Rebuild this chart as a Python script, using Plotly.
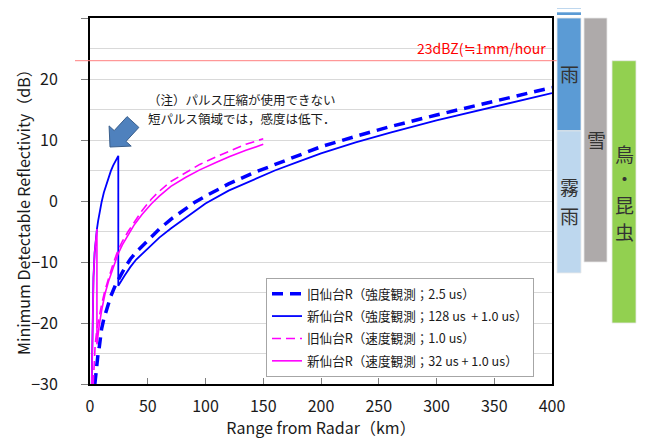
import plotly.graph_objects as go

# ---------------- data ----------------
# 旧仙台R（強度観測；2.5 us）  blue dashed
old_int_r  = [4.2, 5, 6, 7, 8, 10, 12, 15, 18, 22, 26, 30, 35, 40, 50, 60, 70, 80, 90, 100,
              120, 140, 160, 180, 200, 230, 260, 300, 350, 400]
old_int_db = [-30, -28.3, -26.6, -25.0, -24.0, -21.0, -19.3, -17.2, -15.6, -13.8, -12.3, -11.0,
              -9.5, -8.4, -6.5, -4.6, -3.0, -1.6, -0.3, 0.8, 2.8, 4.5, 6.0, 7.5, 8.9, 10.6,
              12.2, 14.1, 16.4, 18.6]

# 新仙台R（強度観測；128 us + 1.0 us） blue solid (short pulse + compressed pulse)
new_int_r  = [1.5, 2, 2.5, 3, 4, 5, 6, 7, 8, 10, 12, 14, 16, 18, 20, 22, 24.5,
              24.5, 26, 30, 35, 40, 50, 60, 70, 80, 90, 100, 120, 140, 160, 180, 200,
              230, 260, 300, 350, 400]
new_int_db = [-30, -21, -16, -12.5, -8.5, -6.2, -4.6, -3.3, -2.1, -0.2, 1.4, 2.7, 3.9, 4.9,
              5.8, 6.6, 7.4,
              -13.9, -13.4, -12.2, -10.8, -9.6, -7.8, -6.0, -4.5, -3.1, -1.7, -0.4, 1.7,
              3.4, 5.0, 6.4, 7.8, 9.6, 11.2, 13.2, 15.5, 17.7]

# 旧仙台R（速度観測；1.0 us） magenta dashed
old_vel_r  = [2.8, 3.5, 4.5, 6, 8, 10, 13, 16, 20, 24, 28, 33, 38, 45, 53, 60, 70, 83, 95,
              110, 121, 135, 150]
old_vel_db = [-30, -26.5, -23.5, -21.0, -18.8, -17.0, -14.6, -12.6, -10.3, -8.2, -6.6, -5.0,
              -3.5, -1.6, 0.3, 1.6, 3.2, 4.7, 6.0, 7.3, 8.2, 9.3, 10.2]

# 新仙台R（速度観測；32 us + 1.0 us） magenta solid
new_vel_r  = [1.5, 2, 2.5, 3, 4, 5, 6,
              6, 7, 8, 10, 13, 16, 20, 24, 28, 33, 38, 45, 53, 60, 70, 83, 95, 110, 121,
              135, 150]
new_vel_db = [-30, -21, -16, -12.5, -8.5, -6.2, -4.6,
              -23.5, -21.8, -20.4, -18.0, -15.2, -13.2, -10.8, -8.8, -7.2, -5.5, -4.0,
              -2.2, -0.5, 0.8, 2.4, 3.9, 5.1, 6.4, 7.3, 8.3, 9.3]

series_names = ["旧仙台R（強度観測；2.5 us）",
                "新仙台R（強度観測；128 us  + 1.0 us）",
                "旧仙台R（速度観測；1.0 us）",
                "新仙台R（速度観測；32 us + 1.0 us）"]

x_ticks = [0, 50, 100, 150, 200, 250, 300, 350, 400]
y_ticks = [-30, -20, -10, 0, 10, 20, 30]
y_tick_text = ["−30", "−20", "−10", "0", "10", "20", "30"]

x_title = "Range from Radar（km）"
y_title = "Minimum Detectable Reflectivity（dB）"

ref_level_db = 23
ref_label = "23dBZ(≒1mm/hour"

# detectable target ranges (dB) drawn as bars right of the chart
target_bars = [
    # name, low, high, colour
    ("雨",   11.5, 30.0, "#5B9BD5"),
    ("霧雨", -11.8, 11.5, "#BDD7EE"),
    ("雪",   -10.0, 30.0, "#AEAAAA"),
    ("鳥昆虫", -20.0, 23.0, "#92D050"),
]

note_lines = ["（注）パルス圧縮が使用できない", "短パルス領域では，感度は低下．"]

FONT = "Noto Sans CJK JP"

# ---------------- figure ----------------
# page body has an 8px margin; plot area in reference pixels: x 90..552, y 18..384
OFF = 8
W, H = 645 - OFF, 439 - OFF
REF_L, REF_T, PW, PH = 90, 18, 462, 366
ML, MT = REF_L - OFF, REF_T - OFF
MR = W - ML - PW
MB = H - MT - PH
YMIN, YMAX = -30, 30


def px2paper(px, py):
    return (px - REF_L) / PW, (REF_T + PH - py) / PH


def db2paper(v):
    return (v - YMIN) / (YMAX - YMIN)


fig = go.Figure()

styles = [
    dict(color="#0000FF", width=3.5, dash="11px,7px"),
    dict(color="#0000FF", width=1.8),
    dict(color="#FF00FF", width=1.6, dash="9px,5px"),
    dict(color="#FF00FF", width=1.6),
]
data = [(old_int_r, old_int_db), (new_int_r, new_int_db),
        (old_vel_r, old_vel_db), (new_vel_r, new_vel_db)]

for i, ((xs, ys), st, nm) in enumerate(zip(data, styles, series_names)):
    fig.add_trace(go.Scatter(x=xs, y=ys, mode="lines", line=st, name=nm,
                             legendgroup=f"g{i}"))

shapes = []
# 23 dBZ reference line
x0, _ = px2paper(75, 0)
x1, _ = px2paper(557, 0)
shapes.append(dict(type="line", xref="paper", yref="paper", x0=x0, x1=x1,
                   y0=db2paper(ref_level_db), y1=db2paper(ref_level_db),
                   line=dict(color="#FF8080", width=1), layer="above"))

# right side bars
bar_cols = {"雨": (557, 581), "霧雨": (557, 581), "雪": (584, 607), "鳥昆虫": (612, 636)}
for name, lo, hi, col in target_bars:
    a, _ = px2paper(bar_cols[name][0], 0)
    b, _ = px2paper(bar_cols[name][1], 0)
    shapes.append(dict(type="rect", xref="paper", yref="paper", x0=a, x1=b,
                       y0=db2paper(lo), y1=db2paper(hi), fillcolor=col,
                       line=dict(width=0.8, color="#E8E8E8")))
# small "continues" strips above rain bar
a, _ = px2paper(557, 0)
b, _ = px2paper(581, 0)
for ytop, ybot in [(12.3, 15.0), (6.8, 8.4)]:
    _, p0 = px2paper(0, ybot)
    _, p1 = px2paper(0, ytop)
    shapes.append(dict(type="rect", xref="paper", yref="paper", x0=a, x1=b,
                       y0=p0, y1=p1, fillcolor="#5B9BD5", line=dict(width=0)))

# block arrow
arrow_px = [(110, 147), (131.2, 146.1), (126.0, 141.4), (138.9, 127.4),
            (127.1, 116.6), (114.2, 130.6), (109.1, 125.9)]
pts = [px2paper(x, y) for x, y in arrow_px]
path = "M " + " L ".join(f"{x:.4f},{y:.4f}" for x, y in pts) + " Z"
shapes.append(dict(type="path", xref="paper", yref="paper", path=path,
                   fillcolor="#4F81BD", line=dict(color="#3A5F8C", width=1)))

annotations = []
ax_, _ = px2paper(548, 0)
annotations.append(dict(xref="paper", yref="paper", x=ax_, y=db2paper(ref_level_db),
                        text=ref_label, showarrow=False, xanchor="right",
                        yanchor="bottom", yshift=1,
                        font=dict(family=FONT, size=14, color="#FF0000")))
for line_txt, ypx in zip(note_lines, [99.5, 118.5]):
    nx, ny = px2paper(146, ypx)
    annotations.append(dict(xref="paper", yref="paper", x=nx, y=ny, text=line_txt,
                            showarrow=False, xanchor="left", yanchor="middle",
                            align="left",
                            font=dict(family=FONT, size=12.5, color="#1a1a1a")))

bar_labels = [("雨", 569, 74), ("霧", 569, 187), ("雨", 569, 215), ("雪", 596, 139),
              ("鳥", 624, 153), ("・", 624, 178), ("昆", 624, 204), ("虫", 624, 231)]
for t, x, y in bar_labels:
    px_, py_ = px2paper(x, y)
    annotations.append(dict(xref="paper", yref="paper", x=px_, y=py_, text=t,
                            showarrow=False, xanchor="center", yanchor="middle",
                            font=dict(family=FONT, size=19, color="#333333")))

# y-axis title as rotated text
tx, ty = px2paper(23, 208)
annotations.append(dict(xref="paper", yref="paper", x=tx, y=ty, text=y_title,
                        textangle=-90, showarrow=False, xanchor="center",
                        yanchor="middle",
                        font=dict(family=FONT, size=16, color="#1a1a1a")))

lx, ly = px2paper(266, 278)

fig.update_layout(
    width=W, height=H,
    margin=dict(l=ML, r=MR, t=MT, b=MB, autoexpand=False),
    paper_bgcolor="white", plot_bgcolor="white",
    font=dict(family=FONT, size=16, color="#1a1a1a"),
    showlegend=True,
    legend=dict(x=lx, y=ly, xanchor="left", yanchor="top",
                bgcolor="white", bordercolor="#A6A6A6", borderwidth=1,
                font=dict(family=FONT, size=12.6, color="#1a1a1a"),
                traceorder="grouped", tracegroupgap=3),
    shapes=shapes, annotations=annotations,
    xaxis=dict(range=[0, 400], tickvals=x_ticks, ticks="inside", ticklen=6,
               tickcolor="#7f7f7f", showgrid=False, zeroline=False,
               showline=True, linecolor="black", linewidth=2, mirror=True,
               ticklabelstandoff=7,
               tickfont=dict(family=FONT, size=16),
               title=dict(text=x_title, standoff=4,
                          font=dict(family=FONT, size=16))),
    yaxis=dict(range=[YMIN, YMAX], tickvals=y_ticks, ticktext=y_tick_text,
               ticks="outside", ticklen=7, tickcolor="#7f7f7f",
               showgrid=True, gridcolor="#D9D9D9", gridwidth=1,
               minor=dict(dtick=5, showgrid=True, gridcolor="#D9D9D9", gridwidth=1,
                          ticks=""),
               zeroline=False, showline=True, linecolor="black", linewidth=2,
               mirror=True, ticklabelstandoff=20,
               tickfont=dict(family=FONT, size=16)),
)

fig.write_html("out.html")
